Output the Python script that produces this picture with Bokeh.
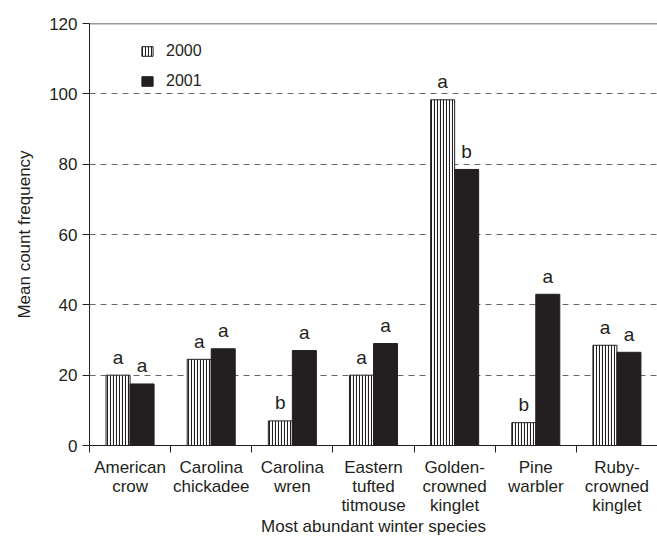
from bokeh.plotting import figure
from bokeh.models import ColumnDataSource, Range1d, FixedTicker, Span, Legend
from bokeh.transform import dodge
from bokeh.core.properties import value
from bokeh.embed import file_html
from bokeh.resources import INLINE

species = ["American\ncrow", "Carolina\nchickadee", "Carolina\nwren", "Eastern\ntufted\ntitmouse",
           "Golden-\ncrowned\nkinglet", "Pine\nwarbler", "Ruby-\ncrowned\nkinglet"]
vals_2000 = [20.0, 24.5, 7.0, 20.0, 98.3, 6.5, 28.5]
vals_2001 = [17.5, 27.5, 27.0, 29.0, 78.5, 43.0, 26.5]
letters_2000 = ["a", "a", "b", "a", "a", "b", "a"]
letters_2001 = ["a", "a", "a", "a", "b", "a", "a"]
y_ticks = [0, 20, 40, 60, 80, 100, 120]

FONT = "Liberation Sans"
TXT = "#231f20"

idx = list(range(len(species)))
src = ColumnDataSource(dict(x=idx, v0=vals_2000, v1=vals_2001, l0=letters_2000, l1=letters_2001))

p = figure(width=657, height=538, output_backend="svg", toolbar_location=None,
           x_range=Range1d(-0.5, len(species) - 0.5), y_range=Range1d(0, 120),
           min_border_top=23, min_border_left=89, min_border_right=0, min_border_bottom=0)
p.outline_line_color = None
p.background_fill_color = "white"
p.border_fill_color = "white"

bw = 0.296
off = bw / 2
r0 = p.vbar(x=dodge("x", -off), top="v0", width=bw, source=src,
            fill_color="white", line_color="#231f20", line_width=1,
            hatch_pattern="vertical_line", hatch_color="#231f20", hatch_scale=3, hatch_weight=1.1)
r1 = p.vbar(x=dodge("x", off), top="v1", width=bw, source=src,
            fill_color="#231f20", line_color="#231f20", line_width=1)

p.text(x=dodge("x", -off), y="v0", text="l0", source=src, text_font=value(FONT),
       text_font_size="19px", text_color=TXT, text_align="center", text_baseline="alphabetic", y_offset=-18)
p.text(x=dodge("x", off), y="v1", text="l1", source=src, text_font=value(FONT),
       text_font_size="19px", text_color=TXT, text_align="center", text_baseline="alphabetic", y_offset=-18)

p.add_layout(Span(location=120, dimension="width", line_color="#333333", line_width=1.5))

legend = Legend(items=[("2000", [r0]), ("2001", [r1])], location=(51, 354),
                border_line_color=None, background_fill_alpha=0, padding=0, margin=0,
                glyph_width=14, glyph_height=12, label_height=20, spacing=10, label_standoff=12,
                label_text_font=FONT, label_text_font_size="16px", label_text_color=TXT)
p.add_layout(legend, "center")

p.xgrid.grid_line_color = None
p.ygrid.grid_line_color = "#666666"
p.ygrid.grid_line_dash = "6 5"
p.ygrid.grid_line_width = 1

p.yaxis.ticker = FixedTicker(ticks=y_ticks)
p.yaxis.major_tick_out = 7
p.yaxis.major_tick_in = 0
p.yaxis.minor_tick_line_color = None
p.yaxis.major_label_standoff = 5
p.yaxis.axis_label = "Mean count frequency"
p.yaxis.axis_label_standoff = 12

bounds = [i - 0.5 for i in range(len(species) + 1)]
p.xaxis.ticker = FixedTicker(ticks=idx, minor_ticks=bounds)
p.xaxis.major_label_overrides = {i: s for i, s in zip(idx, species)}
p.xaxis.major_tick_line_color = None
p.xaxis.minor_tick_out = 7
p.xaxis.minor_tick_in = 0
p.xaxis.major_label_standoff = 5
p.xaxis.major_label_text_line_height = 1.0
p.xaxis.axis_label = "Most abundant winter species"
p.xaxis.axis_label_standoff = -1

for ax in (p.xaxis, p.yaxis):
    ax.axis_line_color = "#231f20"
    ax.major_label_text_font = FONT
    ax.major_label_text_font_size = "17px"
    ax.major_label_text_color = TXT
    ax.axis_label_text_font = FONT
    ax.axis_label_text_font_size = "17px"
    ax.axis_label_text_font_style = "normal"
    ax.axis_label_text_color = TXT
p.yaxis.major_tick_line_color = "#231f20"
p.xaxis.minor_tick_line_color = "#231f20"

open("out.html", "w").write(file_html(p, INLINE))
